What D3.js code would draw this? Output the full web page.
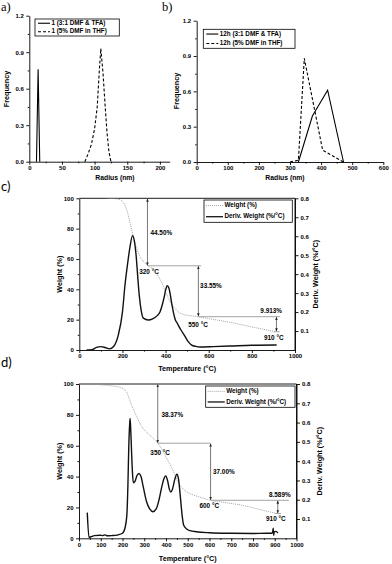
<!DOCTYPE html>
<html>
<head>
<meta charset="utf-8">
<script src="https://cdn.jsdelivr.net/npm/d3@7"></script>
<style>
body { margin: 0; background: #fff; }
svg { display: block; font-family: "Liberation Sans", Arial, sans-serif; }
</style>
</head>
<body>
<svg id="fig" width="392" height="564"></svg>
<script>
// ---- panel a: DLS, sample 1 ----
const aSolidR = [11, 13.5, 16];
const aSolidF = [0, 0.76, 0];
const aDashR = [85, 89, 95, 100, 104, 107, 109.5, 113, 116, 119, 122, 125];
const aDashF = [0, 0.05, 0.14, 0.27, 0.45, 0.73, 0.93, 0.72, 0.47, 0.24, 0.08, 0];
const aLegend = ["1 (3:1 DMF & TFA)", "1 (5% DMF in THF)"];
const aXTicks = [0, 50, 100, 150, 200];

// ---- panel b: DLS, sample 12h ----
const bSolidR = [327, 372, 421, 472];
const bSolidF = [0, 0.39, 0.61, 0];
const bDashR = [300, 327, 346, 405, 452, 471];
const bDashF = [0, 0.015, 0.88, 0.1, 0.03, 0];
const bLegend = ["12h (3:1 DMF & TFA)", "12h (5% DMF in THF)"];
const bXTicks = [0, 100, 200, 300, 400, 500, 600];

const freqTicks = [0, 0.3, 0.6, 0.9, 1.2];

// ---- panel c: TGA ----
const cWeightT = [130, 170, 195, 210, 225, 240, 252, 265, 280, 300, 320, 340, 360, 380, 395, 410, 425, 440, 460, 480, 500, 550, 600, 700, 800, 910];
const cWeightW = [100, 99.7, 98.5, 96, 90, 81, 74, 67.5, 62, 58, 55.5, 53.5, 50, 45, 40, 35, 31, 28, 25, 23.6, 22.9, 21.95, 20.7, 18.2, 15.2, 12.04];
const cDerivT = [34, 60, 80, 100, 120, 140, 160, 181, 200, 212, 225, 235, 247, 255, 263, 270, 278, 287, 297, 320, 340, 360, 374, 385, 393, 400, 408, 415, 420, 428, 436, 445, 454, 470, 490, 505, 521, 540, 560, 620, 700, 800, 915];
const cDerivD = [0, 0.002, 0.014, 0.018, 0.013, 0.006, 0.02, 0.08, 0.2, 0.344, 0.464, 0.544, 0.603, 0.576, 0.504, 0.4, 0.288, 0.208, 0.168, 0.158, 0.164, 0.18, 0.2, 0.24, 0.276, 0.316, 0.339, 0.328, 0.304, 0.248, 0.2, 0.16, 0.141, 0.108, 0.072, 0.044, 0.026, 0.019, 0.016, 0.018, 0.021, 0.025, 0.026];
const cLoss = [44.50, 33.55, 9.913];
const cLossText = ["44.50%", "33.55%", "9.913%"];
const cStepT = [316, 552, 914];
const cStepText = ["320 °C", "550 °C", "910 °C"];

// ---- panel d: TGA ----
const dWeightT = [35, 100, 150, 189, 205, 220, 232, 243, 255, 266, 280, 296, 320, 343, 362, 380, 395, 410, 425, 440, 458, 472, 488, 510, 527, 560, 604, 680, 757, 850, 910];
const dWeightW = [100, 99.5, 98.8, 97.8, 96.8, 94.5, 90, 86, 82, 78.8, 74.5, 71, 67.5, 64.5, 61.63, 58, 54, 50, 46, 41.5, 35.6, 33, 30.9, 29, 28, 26.5, 24.63, 23, 21.2, 18, 16.04];
const dDerivT = [38, 46, 55, 70, 97, 110, 120, 130, 150, 180, 200, 212, 220, 225, 229, 233, 235, 238, 242, 246, 250, 258, 266, 276, 285, 296, 310, 325, 340, 355, 368, 380, 390, 399, 408, 415, 422, 430, 440, 450, 458, 466, 474, 481, 495, 510, 540, 600, 700, 800, 860, 885, 890, 893, 895, 897, 905, 915];
const dDerivD = [0.133, 0.005, 0.008, 0.014, 0.016, 0.014, 0.018, 0.013, 0.014, 0.018, 0.026, 0.056, 0.12, 0.28, 0.48, 0.592, 0.622, 0.56, 0.44, 0.336, 0.288, 0.296, 0.324, 0.336, 0.32, 0.264, 0.192, 0.152, 0.138, 0.152, 0.2, 0.264, 0.308, 0.323, 0.296, 0.256, 0.24, 0.256, 0.304, 0.332, 0.304, 0.216, 0.12, 0.069, 0.048, 0.04, 0.034, 0.029, 0.026, 0.025, 0.026, 0.026, 0.03, 0.052, 0.016, 0.032, 0.036, 0.028];
const dLoss = [38.37, 37.00, 8.589];
const dLossText = ["38.37%", "37.00%", "8.589%"];
const dStepT = [362, 605, 914];
const dStepText = ["350 °C", "600 °C", "910 °C"];

const tgaLegend = ["Weight (%)", "Deriv. Weight (%/°C)"];
const weightTicks = [0, 20, 40, 60, 80, 100];
const derivTicks = [0.1, 0.2, 0.3, 0.4, 0.5, 0.6, 0.7, 0.8];

const svg = d3.select("#fig");

// arrow head for the step annotations
svg.append("defs").append("marker")
    .attr("id", "arr")
    .attr("viewBox", "0 0 10 10")
    .attr("refX", 9).attr("refY", 5)
    .attr("markerWidth", 4).attr("markerHeight", 4)
    .attr("orient", "auto-start-reverse")
    .append("path")
    .attr("d", "M0,1L10,5L0,9Z")
    .attr("fill", "#222");

function styleAxis(g, size) {
    g.selectAll("text")
        .attr("font-size", size || 6)
        .attr("font-weight", "bold")
        .attr("fill", "#000");
    g.selectAll("line, path").attr("stroke", "#000").attr("stroke-width", 0.9);
}

function minorOf(major) {
    const out = [];
    for (let i = 0; i < major.length - 1; i++) out.push((major[i] + major[i + 1]) / 2);
    return out;
}

function bottomAxis(g, x, y0, major, fmt) {
    g.append("g").attr("transform", `translate(0,${y0})`)
        .call(d3.axisBottom(x).tickValues(minorOf(major)).tickSize(1.6).tickSizeOuter(0).tickFormat(""))
        .call(s => s.select(".domain").remove())
        .call(s => styleAxis(s));
    g.append("g").attr("transform", `translate(0,${y0})`)
        .call(d3.axisBottom(x).tickValues(major).tickSize(3).tickPadding(1).tickSizeOuter(0).tickFormat(fmt))
        .call(s => styleAxis(s));
}

function leftAxis(g, y, x0, major, fmt) {
    g.append("g").attr("transform", `translate(${x0},0)`)
        .call(d3.axisLeft(y).tickValues(minorOf(major)).tickSize(1.6).tickSizeOuter(0).tickFormat(""))
        .call(s => s.select(".domain").remove())
        .call(s => styleAxis(s));
    g.append("g").attr("transform", `translate(${x0},0)`)
        .call(d3.axisLeft(y).tickValues(major).tickSize(3).tickPadding(2.5).tickSizeOuter(0).tickFormat(fmt))
        .call(s => styleAxis(s));
}

function axisTitle(g, txt, x, y, rot, size) {
    g.append("text")
        .attr("transform", `translate(${x},${y})` + (rot ? ` rotate(${rot})` : ""))
        .attr("text-anchor", "middle")
        .attr("dominant-baseline", "middle")
        .attr("font-size", size || 7.2)
        .attr("font-weight", "bold")
        .text(txt);
}

function panelLabel(txt, x, y, family, size) {
    svg.append("text")
        .attr("x", x).attr("y", y)
        .attr("font-family", family)
        .attr("font-size", size)
        .text(txt);
}

function legend(g, x0, y0, w, h, labels, styles) {
    g.append("rect")
        .attr("x", x0).attr("y", y0).attr("width", w).attr("height", h)
        .attr("fill", "#fff").attr("stroke", "#000").attr("stroke-width", 0.8);
    labels.forEach((lab, i) => {
        const yy = y0 + h * (i + 0.5) / labels.length;
        const st = styles[i];
        g.append("line")
            .attr("x1", x0 + st.lx1).attr("x2", x0 + st.lx2)
            .attr("y1", yy).attr("y2", yy)
            .attr("stroke", st.color).attr("stroke-width", st.width)
            .attr("stroke-dasharray", st.dash);
        g.append("text")
            .attr("x", x0 + st.lx2 + 1.5).attr("y", yy)
            .attr("dominant-baseline", "middle")
            .attr("font-size", 6.3).attr("font-weight", "bold")
            .text(lab);
    });
}

// ---------- DLS panels ----------
function dlsPanel(cfg) {
    const g = svg.append("g");
    const x = d3.scaleLinear().domain(cfg.xDomain).range(cfg.xRange);
    const y = d3.scaleLinear().domain([0, 1.2]).range(cfg.yRange);
    const line = d3.line().x(d => x(d[0])).y(d => y(d[1]));

    bottomAxis(g, x, cfg.yRange[0], cfg.xTicks, d3.format("d"));
    leftAxis(g, y, cfg.xRange[0], freqTicks, d3.format(".1f"));

    g.append("path")
        .attr("d", line(d3.zip(cfg.solidR, cfg.solidF)))
        .attr("fill", "none").attr("stroke", "#000").attr("stroke-width", 1.1);
    g.append("path")
        .attr("d", line(d3.zip(cfg.dashR, cfg.dashF)))
        .attr("fill", "none").attr("stroke", "#000").attr("stroke-width", 1.1)
        .attr("stroke-dasharray", "3,2");

    legend(g, cfg.leg[0], cfg.leg[1], cfg.leg[2], cfg.leg[3], cfg.legend, [
        { lx1: 3, lx2: 15, color: "#000", width: 1.1, dash: null },
        { lx1: 3, lx2: 15, color: "#000", width: 1.1, dash: "3,2" }
    ]);

    axisTitle(g, "Frequency", cfg.yTitle[0], cfg.yTitle[1], -90);
    axisTitle(g, "Radius (nm)", cfg.xTitle[0], cfg.xTitle[1], 0, 6.8);
}

dlsPanel({
    xDomain: [0, 215], xRange: [29.3, 169.7], yRange: [161.7, 15.7],
    xTicks: aXTicks, solidR: aSolidR, solidF: aSolidF, dashR: aDashR, dashF: aDashF,
    legend: aLegend, leg: [35, 19, 84.3, 17],
    yTitle: [7, 89], xTitle: [115, 178.5]
});

dlsPanel({
    xDomain: [0, 600], xRange: [196.7, 383.3], yRange: [162, 20.7],
    xTicks: bXTicks, solidR: bSolidR, solidF: bSolidF, dashR: bDashR, dashF: bDashF,
    legend: bLegend, leg: [203.3, 29.3, 91.7, 19],
    yTitle: [176.7, 91], xTitle: [285, 178.5]
});

// ---------- TGA panels ----------
function tgaPanel(cfg) {
    const g = svg.append("g");
    const x = d3.scaleLinear().domain([0, 1000]).range(cfg.xRange);
    const y = d3.scaleLinear().domain([0, 100]).range(cfg.yRange);
    const yR = d3.scaleLinear().domain([0, 0.8]).range(cfg.yRange);

    const [x0, x1] = cfg.xRange;
    const [yb, yt] = cfg.yRange;

    bottomAxis(g, x, yb, cfg.xTicks, d3.format("d"));
    leftAxis(g, y, x0, weightTicks, d3.format("d"));

    g.append("g").attr("transform", `translate(${x1},0)`)
        .call(d3.axisRight(yR).tickValues(derivTicks).tickSize(3.5).tickPadding(2).tickSizeOuter(0).tickFormat(d3.format(".1f")))
        .call(s => styleAxis(s));

    g.append("line").attr("x1", x0).attr("x2", x1).attr("y1", yt).attr("y2", yt)
        .attr("stroke", "#000").attr("stroke-width", 0.9);

    // step annotations: cumulative remaining weight after each loss
    let w = 100;
    const levels = [100];
    cfg.loss.forEach(l => { w -= l; levels.push(w); });

    const ann = g.append("g");
    cfg.stepT.forEach((t, i) => {
        const top = levels[i], bot = levels[i + 1];
        ann.append("line")
            .attr("x1", x(t)).attr("x2", x(t))
            .attr("y1", y(top) + 0.5).attr("y2", y(bot) - 0.5)
            .attr("stroke", "#555").attr("stroke-width", 0.8)
            .attr("marker-start", "url(#arr)").attr("marker-end", "url(#arr)");
        // horizontal reference at the lower level
        const hx2 = i < cfg.stepT.length - 1 ? cfg.hEnd[i] : t + 15;
        const hx1 = i < cfg.stepT.length - 1 ? t : t - 12;
        ann.append("line")
            .attr("x1", x(hx1)).attr("x2", x(hx2))
            .attr("y1", y(bot)).attr("y2", y(bot))
            .attr("stroke", "#999").attr("stroke-width", 0.9);
    });

    cfg.labels.forEach(lb => {
        ann.append("text")
            .attr("x", x(lb[1])).attr("y", y(lb[2]))
            .attr("text-anchor", lb[3])
            .attr("dominant-baseline", "middle")
            .attr("font-size", 6.4).attr("font-weight", "bold")
            .text(lb[0]);
    });

    const wLine = d3.line().x(d => x(d[0])).y(d => y(d[1])).curve(d3.curveMonotoneX);
    const dLine = d3.line().x(d => x(d[0])).y(d => yR(d[1])).curve(d3.curveMonotoneX);

    g.append("path")
        .attr("d", wLine(d3.zip(cfg.wT, cfg.wW)))
        .attr("fill", "none").attr("stroke", "#9a9a9a").attr("stroke-width", 0.9)
        .attr("stroke-dasharray", "1,1");
    g.append("path")
        .attr("d", dLine(d3.zip(cfg.dT, cfg.dD)))
        .attr("fill", "none").attr("stroke", "#111").attr("stroke-width", 1.4);

    g.append("line").attr("x1", x1).attr("x2", x1).attr("y1", yt).attr("y2", yb)
        .attr("stroke", "#000").attr("stroke-width", 0.9);

    legend(g, cfg.leg[0], cfg.leg[1], cfg.leg[2], cfg.leg[3], tgaLegend, [
        { lx1: 2, lx2: 19, color: "#9a9a9a", width: 0.9, dash: "1,1" },
        { lx1: 2, lx2: 19, color: "#000", width: 1.2, dash: null }
    ]);

    axisTitle(g, "Weight (%)", cfg.yTitleL, (yb + yt) / 2, -90);
    axisTitle(g, "Deriv. Weight (%/°C)", cfg.yTitleR, (yb + yt) / 2, -90);
    axisTitle(g, "Temperature (°C)", (x0 + x1) / 2, cfg.xTitleY, 0);
}

tgaPanel({
    xRange: [79.3, 295], yRange: [350, 198.3],
    xTicks: [0, 200, 400, 600, 800, 1000],
    wT: cWeightT, wW: cWeightW, dT: cDerivT, dD: cDerivD,
    loss: cLoss, stepT: cStepT, hEnd: [565, 930],
    labels: [
        [cLossText[0], 330, 77, "start"], [cStepText[0], 278, 51.4, "start"],
        [cLossText[1], 560, 42.2, "start"], [cStepText[1], 505, 16, "start"],
        [cLossText[2], 940, 25.7, "end"], [cStepText[2], 856, 7.7, "start"]
    ],
    leg: [204, 200, 88.3, 22.3],
    yTitleL: 60, yTitleR: 316, xTitleY: 369
});

tgaPanel({
    xRange: [79, 296.5], yRange: [538.3, 384],
    xTicks: [0, 100, 200, 300, 400, 500, 600, 700, 800, 900, 1000],
    wT: dWeightT, wW: dWeightW, dT: dDerivT, dD: dDerivD,
    loss: dLoss, stepT: dStepT, hEnd: [605, 965],
    labels: [
        [dLossText[0], 379, 79.6, "start"], [dStepText[0], 328, 55, "start"],
        [dLossText[1], 616, 43, "start"], [dStepText[1], 554, 20.5, "start"],
        [dLossText[2], 973, 27.6, "end"], [dStepText[2], 860, 12.5, "start"]
    ],
    leg: [205.7, 386, 89.3, 21.3],
    yTitleL: 60, yTitleR: 320, xTitleY: 559
});

// panel letters
panelLabel("a)", 1, 11, "Liberation Serif", 12.5);
panelLabel("b)", 162, 11, "Liberation Serif", 12.5);
panelLabel("c)", 1, 191, "Lato", 13);
panelLabel("d)", 1, 367, "Lato", 13);
</script>
</body>
</html>
